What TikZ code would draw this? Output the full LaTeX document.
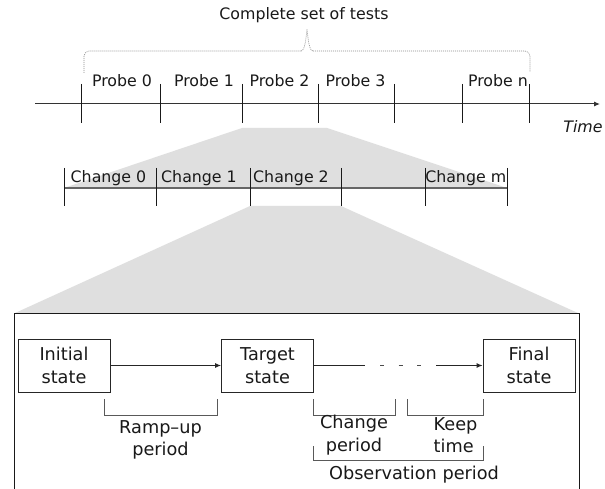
\documentclass[tikz,border=0pt]{standalone}
\usepackage{fontspec}
\setmainfont{DejaVu Sans}
\usetikzlibrary{arrows.meta}
\definecolor{zoomgray}{RGB}{223,223,223}
\begin{document}
\begin{tikzpicture}[x=1pt,y=-1pt,
  lbl/.style={anchor=base, inner sep=0pt, text=black!90, font=\fontsize{15.8}{19}\selectfont},
  biglbl/.style={anchor=base, inner sep=0pt, text=black!90, font=\fontsize{17.7}{22}\selectfont},
  statebox/.style={draw=black!85, line width=0.9pt, minimum width=92pt, minimum height=53pt,
    inner sep=0pt, align=center, text=black!90, font=\fontsize{17.7}{23}\selectfont},
  tickline/.style={draw=black!90, line width=0.9pt},
  bracketline/.style={draw=black!65, line width=0.8pt},
  conn/.style={draw=black!85, line width=0.9pt},
  tip/.style={-{Latex[length=6pt,width=5pt]}},
  bracedots/.style={draw=black!45, line width=0.6pt, dash pattern=on 1pt off 1pt}
]
\useasboundingbox (0,0) rectangle (605,489);
\fill[white] (0,0) rectangle (605,489);

% zoom trapezoids
\fill[zoomgray] (242,128) -- (327,128) -- (507,188) -- (64,188) -- cycle;
\fill[zoomgray] (250,206) -- (341,206) -- (579,313.5) -- (14,313.5) -- cycle;

% title and dotted brace
\node[lbl] (title) at (304,19.5) {Complete set of tests};
\draw[bracedots, rounded corners=5pt] (84,73) -- (84,51) -- (301,51);
\draw[bracedots, rounded corners=5pt] (313,51) -- (530,51) -- (530,72);
\draw[bracedots] (301,51) .. controls (305,51) and (306,38) .. (307,29)
                 .. controls (308,38) and (309,51) .. (313,51);

% top time axis
\coordinate (ax0) at (35,104);
\coordinate (ax1) at (600,104);
\draw[conn, tip, draw=black!80, line width=1pt] (ax0) -- (ax1);
\foreach \x in {81,160,242,318,394,462,529}
  \draw[tickline] (\x,84) -- (\x,123);
\node[lbl] (p0) at (122,86.5) {Probe 0};
\node[lbl] (p1) at (204,86.5) {Probe 1};
\node[lbl] (p2) at (279.5,86.5) {Probe 2};
\node[lbl] (p3) at (355.5,86.5) {Probe 3};
\node[lbl] (pn) at (498,86.5) {Probe n};
\node[lbl, font=\fontsize{15.8}{19}\selectfont\itshape] (time) at (583,133) {Time};

% change bar
\draw[draw=black!60, line width=1.6pt] (64,188) -- (507,188);
\foreach \x in {64,156,250,341,425,507}
  \draw[tickline] (\x,168) -- (\x,206);
\node[lbl] (c0) at (108.5,182.5) {Change 0};
\node[lbl] (c1) at (199,182.5) {Change 1};
\node[lbl] (c2) at (291,182.5) {Change 2};
\node[lbl] (cm) at (465.7,182.5) {Change m};

% detail frame (open at the bottom)
\draw[draw=black!90, line width=1pt] (14,489) -- (14,313.5) -- (579,313.5) -- (579,489);

% states
\node[statebox] (init) at (64,365.5) {Initial\\state};
\node[statebox] (target) at (267.5,365.5) {Target\\state};
\node[statebox] (final) at (529,365.5) {Final\\state};

\draw[conn, tip] (init) -- (target);
\coordinate (gapL) at (365,365.5);
\coordinate (gapR) at (436,365.5);
\coordinate (dA) at (380,365.5);
\coordinate (dB) at (421,365.5);
\draw[conn] (target) -- (gapL);
\draw[conn, draw=black!70, dash pattern=on 4pt off 14.5pt] (dA) -- (dB);
\draw[conn, tip] (gapR) -- (final);

% brackets
\draw[bracketline] (104,399) -- (104,415) -- (217,415) -- (217,399);
\draw[bracketline] (313,399) -- (313,415) -- (395,415) -- (395,399);
\draw[bracketline] (407,399) -- (407,415) -- (483,415) -- (483,399);
\draw[bracketline] (313,446) -- (313,460) -- (483,460) -- (483,446);

\node[biglbl] (ramp1) at (160.5,433.3) {Ramp–up};
\node[biglbl] (ramp2) at (160.5,455.5) {period};
\node[biglbl] (chg1) at (354,428.3) {Change};
\node[biglbl] (chg2) at (354,451) {period};
\node[biglbl] (keep1) at (455.5,430.7) {Keep};
\node[biglbl] (keep2) at (453.7,452.3) {time};
\node[biglbl] (obs) at (414,479.3) {Observation period};
\end{tikzpicture}
\end{document}
